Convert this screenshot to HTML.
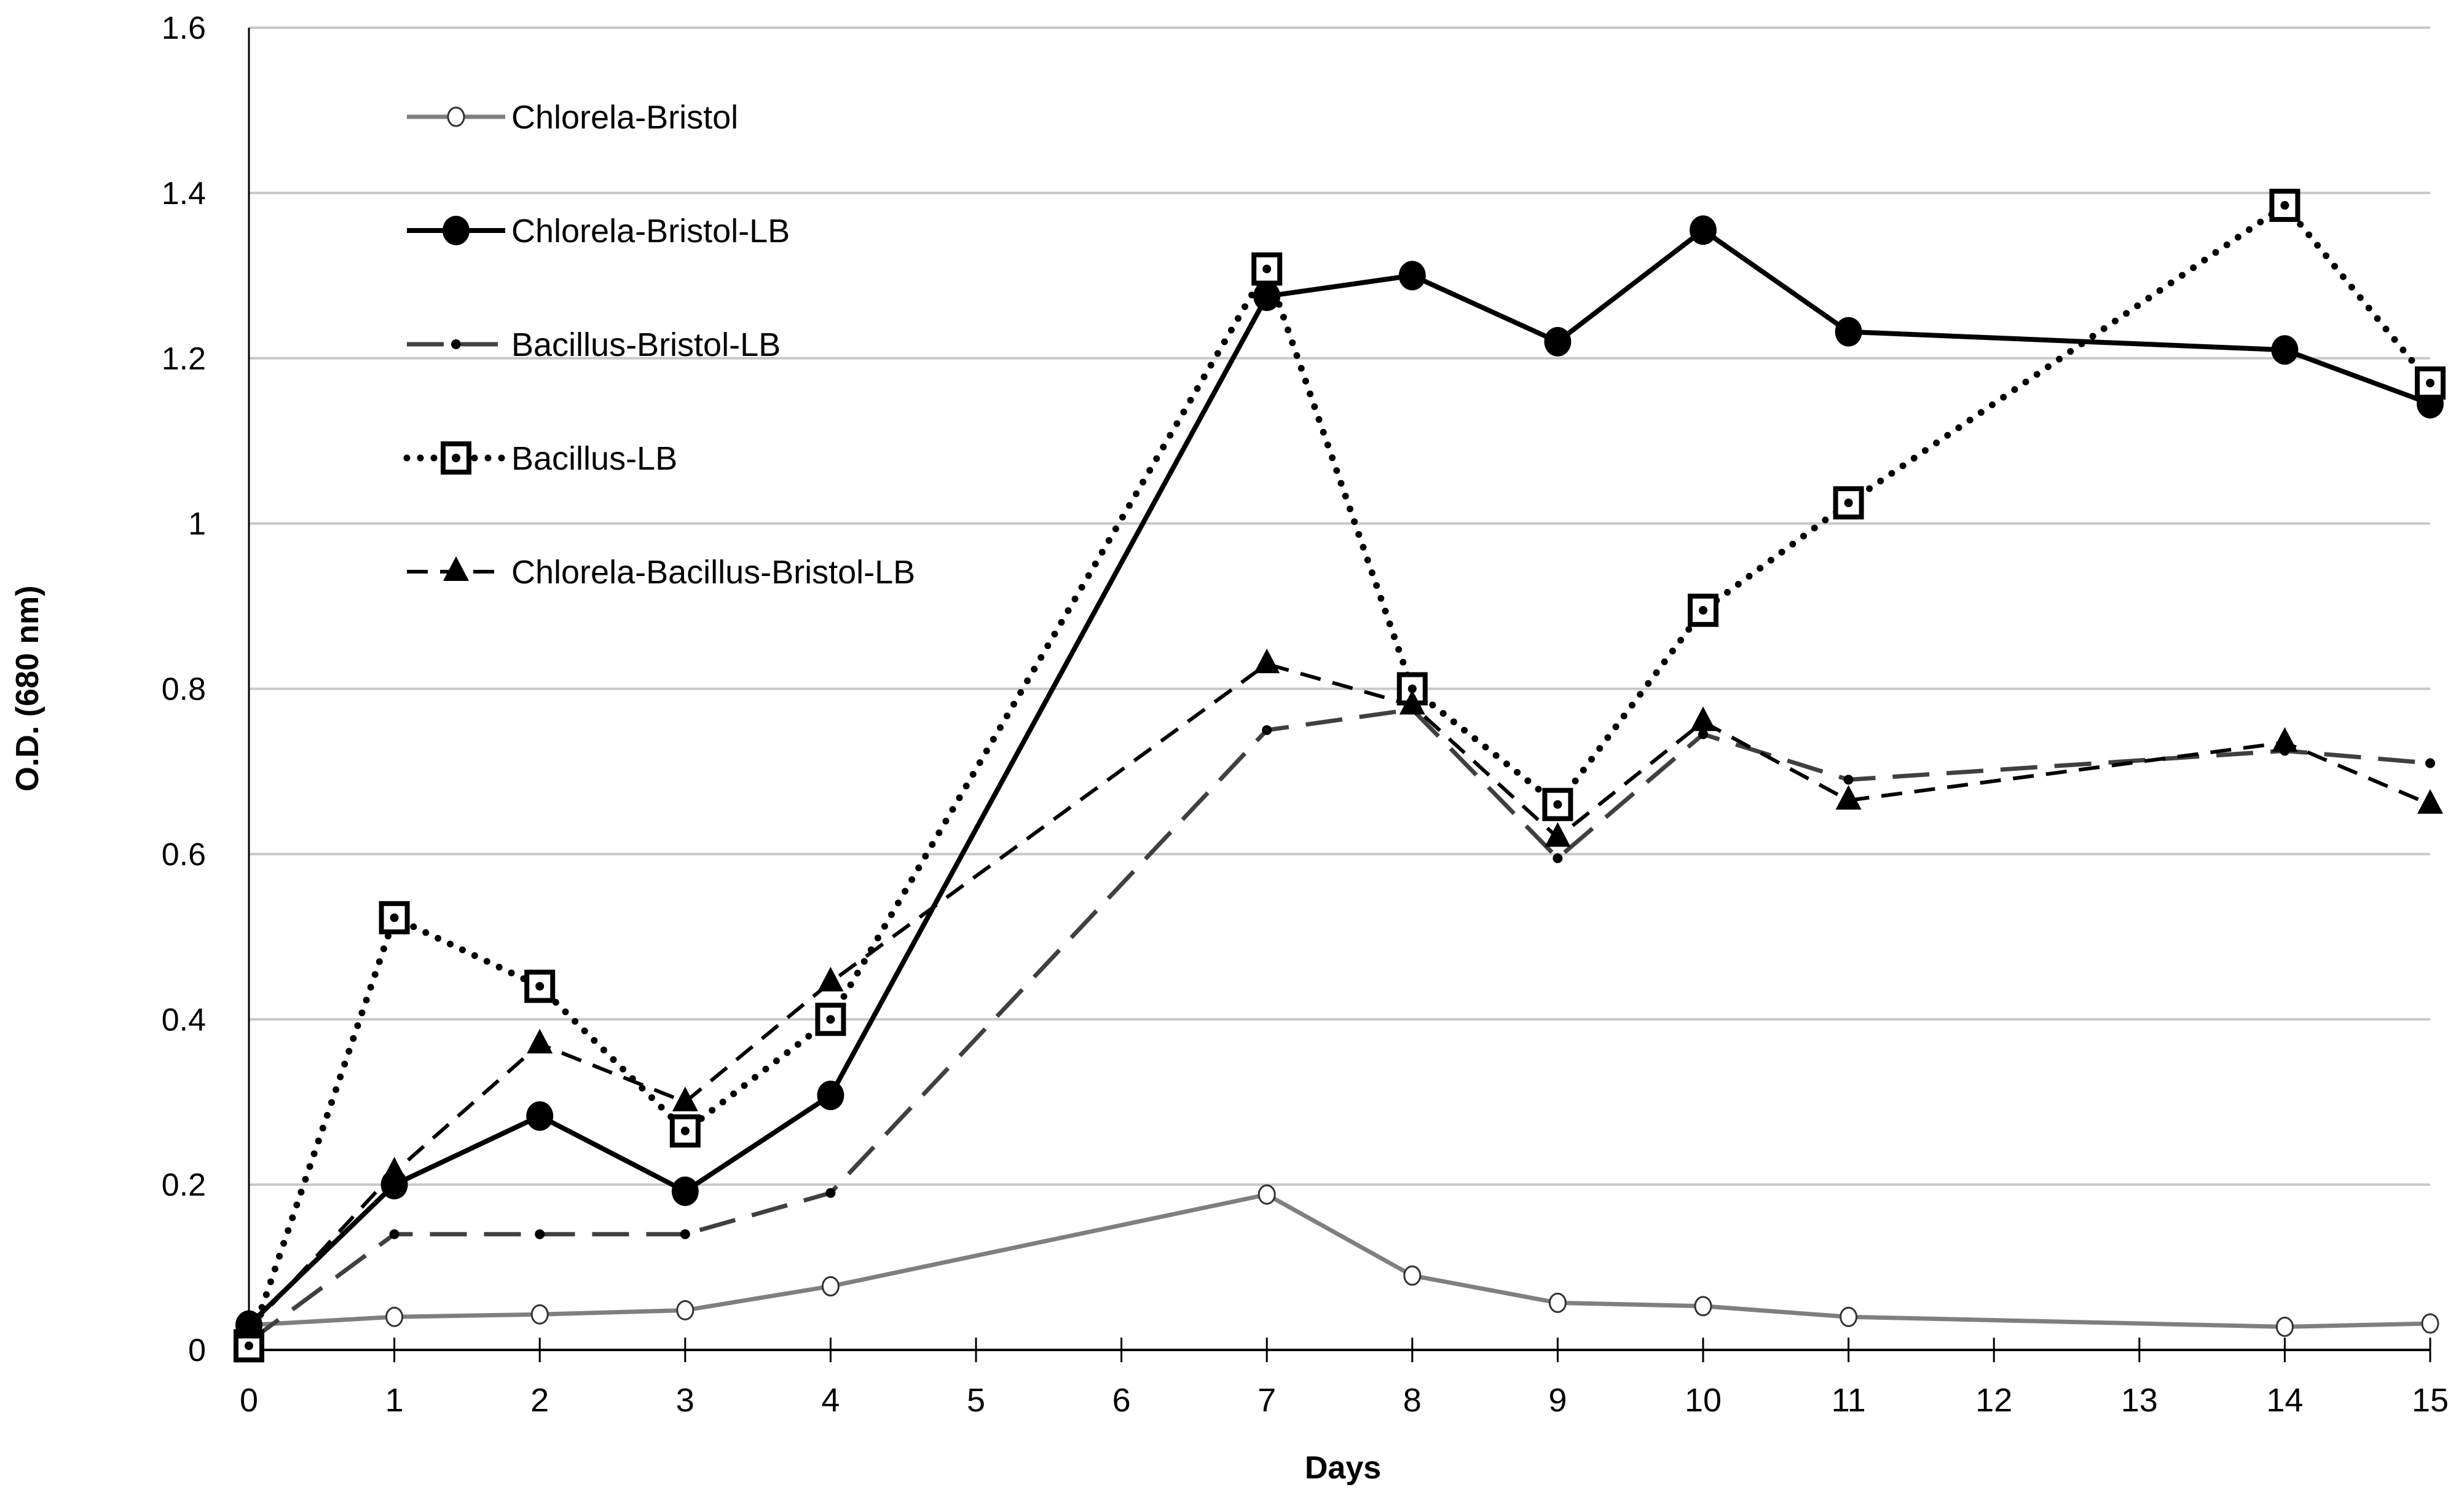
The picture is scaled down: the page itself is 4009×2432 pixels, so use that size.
<!DOCTYPE html>
<html><head><meta charset="utf-8"><style>
html,body{margin:0;padding:0;background:#fff;}
svg{display:block;font-family:"Liberation Sans",sans-serif;}
</style></head><body>
<svg id="chart" width="4009" height="2432" viewBox="0 0 4009 2432" xmlns="http://www.w3.org/2000/svg">
<g id="grid"></g>
<g id="axes"></g>
<g id="series"></g>
<g id="legend"></g>
<text x="0" y="0" transform="translate(62,1120) rotate(-90)" text-anchor="middle" font-size="52" font-weight="bold">O.D. (680 nm)</text>
<text x="2185" y="2405" text-anchor="middle" font-size="52" font-weight="bold">Days</text>
</svg>
<script>
const days = [0,1,2,3,4,7,8,9,10,11,14,15];
const xTicks = [0,1,2,3,4,5,6,7,8,9,10,11,12,13,14,15];
const yTicks = [0,0.2,0.4,0.6,0.8,1,1.2,1.4,1.6];
const yTickLabels = ["0","0.2","0.4","0.6","0.8","1","1.2","1.4","1.6"];
const chlorelaBristol = [0.03,0.04,0.043,0.048,0.077,0.188,0.09,0.057,0.053,0.04,0.028,0.032];
const chlorelaBristolLB = [0.03,0.2,0.283,0.192,0.308,1.275,1.30,1.22,1.355,1.232,1.21,1.145];
const bacillusBristolLB = [0.01,0.14,0.14,0.14,0.19,0.75,0.775,0.595,0.745,0.69,0.725,0.71];
const bacillusLB = [0.005,0.523,0.44,0.265,0.40,1.308,0.80,0.66,0.895,1.025,1.385,1.17];
const chlorelaBacillusBristolLB = [0.025,0.215,0.37,0.30,0.445,0.83,0.78,0.62,0.76,0.665,0.735,0.66];
const seriesNames = ["Chlorela-Bristol","Chlorela-Bristol-LB","Bacillus-Bristol-LB","Bacillus-LB","Chlorela-Bacillus-Bristol-LB"];

const NS="http://www.w3.org/2000/svg";
const X0=405, XW=236.6, Y0=2196, YTOP=45;
const xS = d => X0 + d*XW;
const yS = v => Y0 - v/1.6*(Y0-YTOP);
function mk(tag, attrs, parent){const e=document.createElementNS(NS,tag);for(const k in attrs)e.setAttribute(k,attrs[k]);parent.appendChild(e);return e;}
const grid=document.getElementById('grid'), axes=document.getElementById('axes'), ser=document.getElementById('series'), leg=document.getElementById('legend');

yTicks.forEach((v,i)=>{
  if(v>0){const l=mk('line',{x1:X0,x2:xS(15),y1:yS(v),y2:yS(v),stroke:'#c8c8c8','stroke-width':4},grid);
  
  }
  const t=mk('text',{x:335,y:yS(v)+18,'text-anchor':'end','font-size':52},axes);
  t.textContent=yTickLabels[i];
  
  
});
const yax=mk('line',{x1:X0,x2:X0,y1:YTOP,y2:Y0,stroke:'#000','stroke-width':3},axes);


const xax=mk('line',{x1:X0,x2:xS(15),y1:Y0,y2:Y0,stroke:'#000','stroke-width':4},axes);


xTicks.forEach(d=>{
  const tk=mk('line',{x1:xS(d),x2:xS(d),y1:Y0-20,y2:Y0+20,stroke:'#000','stroke-width':3},axes);
  
  
  const t=mk('text',{x:xS(d),y:Y0+100,'text-anchor':'middle','font-size':54},axes);
  t.textContent=String(d);
  
  
});

const styles=[
 {data:chlorelaBristol,stroke:'#7f7f7f',w:7,dash:'',cap:'butt',marker:'ocircle'},
 {data:chlorelaBristolLB,stroke:'#000',w:8,dash:'',cap:'butt',marker:'fcircle'},
 {data:bacillusBristolLB,stroke:'#404040',w:7,dash:'60 28',cap:'butt',marker:'dot'},
 {data:bacillusLB,stroke:'#000',w:11,dash:'0 22',cap:'round',marker:'square'},
 {data:chlorelaBacillusBristolLB,stroke:'#000',w:6,dash:'34 20',cap:'butt',marker:'triangle'}
];
function marker(type,x,y,g,col){
  if(type==='ocircle') return mk('ellipse',{cx:x,cy:y,rx:13,ry:15,fill:'#fff',stroke:'#333','stroke-width':3},g);
  if(type==='fcircle') return mk('ellipse',{cx:x,cy:y,rx:22,ry:24,fill:'#000'},g);
  if(type==='dot') return mk('circle',{cx:x,cy:y,r:8,fill:'#000'},g);
  if(type==='square'){const r=mk('rect',{x:x-21,y:y-23,width:42,height:46,fill:'#fff',stroke:'#000','stroke-width':8},g);mk('circle',{cx:x,cy:y,r:7,fill:'#000'},g);return r;}
  if(type==='triangle') return mk('polygon',{points:`${x},${y-25} ${x+21},${y+15} ${x-21},${y+15}`,fill:'#000'},g);
}
styles.forEach((s,i)=>{
  const g=mk('g',{},ser);
  
  
  const pts=s.data.map((v,j)=>xS(days[j])+','+yS(v)).join(' ');
  const pl=mk('polyline',{points:pts,fill:'none',stroke:s.stroke,'stroke-width':s.w,'stroke-dasharray':s.dash,'stroke-linecap':s.cap,'stroke-linejoin':'round'},g);
  
  
  s.data.forEach((v,j)=>{
    const m=marker(s.marker,xS(days[j]),yS(v),g,s.stroke);
    
    
  });
  const ly=190+i*185;
  const lg=mk('g',{},leg);
  
  
  mk('line',{x1:662,x2:822,y1:ly,y2:ly,stroke:s.stroke,'stroke-width':s.w,'stroke-dasharray':s.dash,'stroke-linecap':s.cap},lg);
  marker(s.marker,742,ly,lg,s.stroke);
  const t=mk('text',{x:832,y:ly+19,'font-size':54},lg);
  t.textContent=seriesNames[i];
});
</script>
</body></html>
